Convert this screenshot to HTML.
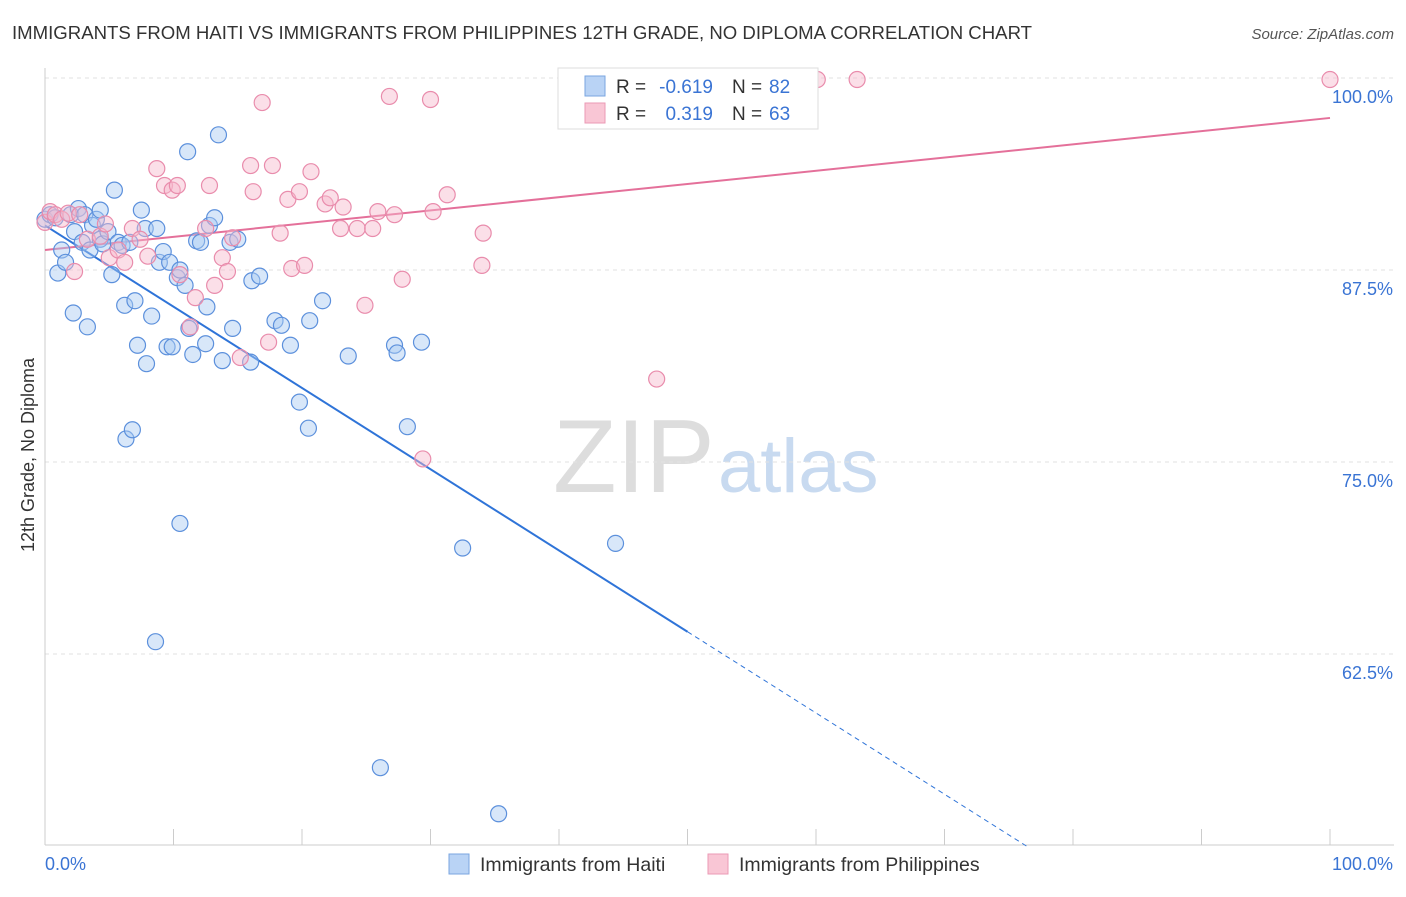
<!DOCTYPE html>
<html><head><meta charset="utf-8"><style>
body{margin:0;background:#fff;font-family:"Liberation Sans",sans-serif}
svg text{font-family:"Liberation Sans",sans-serif}
</style></head><body>
<svg id="chart" width="1406" height="892" viewBox="0 0 1406 892" xmlns="http://www.w3.org/2000/svg">
<text x="12" y="39" font-size="18.6" fill="#333">IMMIGRANTS FROM HAITI VS IMMIGRANTS FROM PHILIPPINES 12TH GRADE, NO DIPLOMA CORRELATION CHART</text>
<text x="1394" y="39" font-size="15" fill="#555" text-anchor="end" font-style="italic">Source: ZipAtlas.com</text>
<g>
<text x="553" y="492" font-size="104" fill="#ddd" font-family="Liberation Serif,serif">ZIP</text>
<text x="718" y="492" font-size="76" fill="#c8daf0">atlas</text>
</g>
<g id="grid"></g>
<g id="axes"></g>
<g id="lines"></g>
<g id="pts"></g>
<text transform="translate(34,455) rotate(-90)" font-size="18" fill="#333" text-anchor="middle">12th Grade, No Diploma</text>
<g>
<rect x="558" y="68" width="260" height="61" fill="#fff" stroke="#ddd"/>
<rect x="585" y="76" width="20" height="20" fill="#b9d3f5" stroke="#7aa6e0"/>
<rect x="585" y="103" width="20" height="20" fill="#f9c6d5" stroke="#eb9ab5"/>
<text x="616" y="93" font-size="19" fill="#333">R =</text>
<text x="713" y="93" font-size="19" fill="#3a74d4" text-anchor="end">-0.619</text>
<text x="732" y="93" font-size="19" fill="#333">N =</text>
<text x="769" y="93" font-size="19" fill="#3a74d4">82</text>
<text x="616" y="120" font-size="19" fill="#333">R =</text>
<text x="713" y="120" font-size="19" fill="#3a74d4" text-anchor="end">0.319</text>
<text x="732" y="120" font-size="19" fill="#333">N =</text>
<text x="769" y="120" font-size="19" fill="#3a74d4">63</text>
</g>
<g>
<rect x="449" y="854" width="20" height="20" fill="#b9d3f5" stroke="#7aa6e0"/>
<text x="480" y="871" font-size="19.5" fill="#333">Immigrants from Haiti</text>
<rect x="708" y="854" width="20" height="20" fill="#f9c6d5" stroke="#eb9ab5"/>
<text x="739" y="871" font-size="19.5" fill="#333">Immigrants from Philippines</text>
</g>
</svg>
<script>
const haitiX=[0,0.4,0.8,1,1.3,1.6,2,2.2,2.3,2.6,2.9,3.1,3.3,3.5,3.7,4,4.3,4.3,4.5,4.9,5.2,5.4,5.7,6,6.2,6.3,6.6,6.8,7,7.2,7.5,7.8,7.9,8.3,8.6,8.7,8.9,9.2,9.5,9.7,9.9,10.3,10.5,10.5,10.9,11.1,11.2,11.5,11.8,12.1,12.5,12.6,12.8,13.2,13.5,13.8,14.4,14.6,15,16,16.1,16.7,17.9,18.4,19.1,19.8,20.5,20.6,21.6,23.6,26.1,27.2,27.4,28.2,29.3,32.5,35.3,44.4];
const haitiY=[90.8,91.1,90.9,87.3,88.8,88.0,91.1,84.7,90.0,91.5,89.3,91.1,83.8,88.8,90.4,90.8,91.4,89.5,89.2,90.0,87.2,92.7,89.3,89.1,85.2,76.5,89.3,77.1,85.5,82.6,91.4,90.2,81.4,84.5,63.3,90.2,88.0,88.7,82.5,88.0,82.5,87.0,87.5,71.0,86.5,95.2,83.7,82.0,89.4,89.3,82.7,85.1,90.4,90.9,96.3,81.6,89.3,83.7,89.5,81.5,86.8,87.1,84.2,83.9,82.6,78.9,77.2,84.2,85.5,81.9,55.1,82.6,82.1,77.3,82.8,69.4,52.1,69.7];
const philX=[0,0.4,0.8,1.3,1.8,2.3,2.7,3.3,4.3,4.7,5,5.7,6.2,6.8,7.4,8,8.7,9.3,9.9,10.3,10.5,11.3,11.7,12.5,12.8,13.2,13.8,14.2,14.6,15.2,16,16.2,16.9,17.4,17.7,18.3,18.9,19.2,19.8,20.2,20.7,21.8,22.2,23,23.2,24.3,24.9,25.5,25.9,26.8,27.2,27.8,29.4,30,30.2,31.3,34,34.1,47.6,60.1,63.2,100];
const philY=[90.6,91.3,91.1,90.8,91.2,87.4,91.1,89.5,89.7,90.5,88.3,88.8,88.0,90.2,89.5,88.4,94.1,93.0,92.7,93.0,87.2,83.8,85.7,90.2,93.0,86.5,88.3,87.4,89.6,81.8,94.3,92.6,98.4,82.8,94.3,89.9,92.1,87.6,92.6,87.8,93.9,91.8,92.2,90.2,91.6,90.2,85.2,90.2,91.3,98.8,91.1,86.9,75.2,98.6,91.3,92.4,87.8,89.9,80.4,99.9,99.9,99.9];
const yTicks=[100,87.5,75,62.5];
const yTickLabels=["100.0%","87.5%","75.0%","62.5%"];
const xTickVals=[0,10,20,30,40,50,60,70,80,90,100];
const haitiTrend=[90.4,-0.529];
const philTrend=[88.8,0.086];

const NS="http://www.w3.org/2000/svg";
const X=v=>45+v*12.85;
const Y=v=>78+(100-v)*15.36;
function mk(tag,attrs,parent){const e=document.createElementNS(NS,tag);for(const k in attrs)e.setAttribute(k,attrs[k]);parent.appendChild(e);return e;}
const grid=document.getElementById('grid'),axes=document.getElementById('axes'),lines=document.getElementById('lines'),pts=document.getElementById('pts');
yTicks.forEach((t,i)=>{
 const l=mk('line',{x1:45,x2:1394,y1:Y(t),y2:Y(t),stroke:'#e2e2e2','stroke-dasharray':'4,4'},grid);
 
 
 const tx=mk('text',{x:1393,y:Y(t)+25,'font-size':18,fill:'#3a74d4','text-anchor':'end'},axes);
 tx.textContent=yTickLabels[i];
 
 
});
const yl=mk('line',{x1:45,x2:45,y1:68,y2:845,stroke:'#ccc'},axes);


const xl=mk('line',{x1:45,x2:1394,y1:845,y2:845,stroke:'#ccc'},axes);


xTickVals.forEach(t=>{
 const k=mk('line',{x1:X(t),x2:X(t),y1:829,y2:845,stroke:'#ccc'},axes);
 
 
});
const x0=mk('text',{x:45,y:870,'font-size':18,fill:'#3a74d4'},axes);x0.textContent='0.0%';


const x1=mk('text',{x:1393,y:870,'font-size':18,fill:'#3a74d4','text-anchor':'end'},axes);x1.textContent='100.0%';



function pointsOf(xs,ys,fill,stroke,name){
 xs.forEach((x,i)=>{
  const c=mk('circle',{cx:X(x),cy:Y(ys[i]),r:8,fill:fill,'fill-opacity':0.45,stroke:stroke,'stroke-width':1.2},pts);
  
  
 });
}
pointsOf(haitiX,haitiY,'#a9c9f2','#5c90dc','haiti-point');
pointsOf(philX,philY,'#f6b9cc','#e98cac','philippines-point');

const hEnd=(50-haitiTrend[0])/haitiTrend[1];
const h1=mk('line',{x1:X(0),y1:Y(haitiTrend[0]),x2:X(50),y2:Y(haitiTrend[0]+haitiTrend[1]*50),stroke:'#2f74d8','stroke-width':2},lines);


const h2=mk('line',{x1:X(50),y1:Y(haitiTrend[0]+haitiTrend[1]*50),x2:X(hEnd),y2:Y(50),stroke:'#2f74d8','stroke-width':1,'stroke-dasharray':'5,4'},lines);


const p1=mk('line',{x1:X(0),y1:Y(philTrend[0]),x2:X(100),y2:Y(philTrend[0]+philTrend[1]*100),stroke:'#e4709a','stroke-width':2},lines);


</script>
</body></html>
